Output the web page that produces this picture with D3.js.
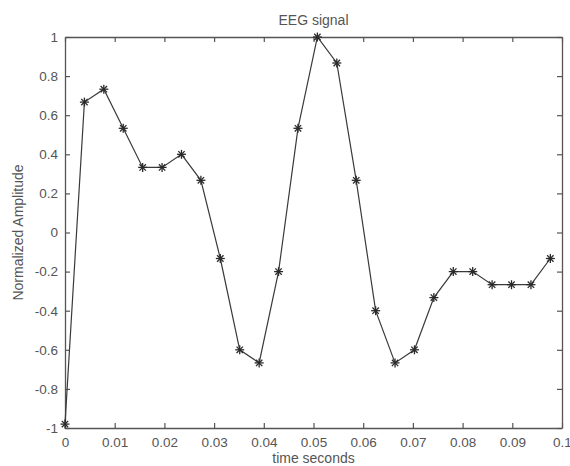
<!DOCTYPE html>
<html>
<head>
<meta charset="utf-8">
<script src="https://cdn.jsdelivr.net/npm/d3@7/dist/d3.min.js"></script>
<style>
  html, body { margin: 0; padding: 0; background: #fff; }
  svg { display: block; }
  text { font-family: "Liberation Sans", Arial, sans-serif; fill: #555; }
</style>
</head>
<body>
<script>
// Sample times (s) at 256 Hz and normalized EEG amplitudes
const sampleTimes = d3.range(26).map(i => i / 256);
const amplitudes = [
  -0.98, 0.667, 0.733, 0.533, 0.333, 0.333, 0.4, 0.267, -0.133, -0.6,
  -0.667, -0.2, 0.533, 1.0, 0.867, 0.267, -0.4, -0.667, -0.6, -0.333,
  -0.2, -0.2, -0.267, -0.267, -0.267, -0.133
];
const xTicks = [0, 0.01, 0.02, 0.03, 0.04, 0.05, 0.06, 0.07, 0.08, 0.09, 0.1];
const yTicks = [-1, -0.8, -0.6, -0.4, -0.2, 0, 0.2, 0.4, 0.6, 0.8, 1];
const titleText = "EEG signal";
const xLabelText = "time seconds";
const yLabelText = "Normalized Amplitude";

const W = 570, H = 466;
const m = { left: 65, right: 8, top: 37, bottom: 38 };
const fontSize = "14px";
const tickFontSize = "13.5px";

const svg = d3.select("body").append("svg").attr("width", W).attr("height", H);

const x = d3.scaleLinear().domain([0, 0.1]).range([m.left, W - m.right]);
const y = d3.scaleLinear().domain([-1, 1]).range([H - m.bottom, m.top]);

const fmt = d => (d === 0 ? "0" : String(+d.toFixed(2)));
const axisColor = "#555";
const tickLen = 5;

// Bottom axis with labels, inward ticks
const gx = svg.append("g").attr("transform", `translate(0,${y(-1)})`)
  .call(d3.axisBottom(x).tickValues(xTicks).tickSizeInner(-tickLen).tickSizeOuter(0).tickPadding(9).tickFormat(fmt));
// Left axis with labels, inward ticks
const gy = svg.append("g").attr("transform", `translate(${x(0)},0)`)
  .call(d3.axisLeft(y).tickValues(yTicks).tickSizeInner(-tickLen).tickSizeOuter(0).tickPadding(7).tickFormat(fmt));
// Top and right axes: ticks only
const gt = svg.append("g").attr("transform", `translate(0,${y(1)})`)
  .call(d3.axisTop(x).tickValues(xTicks).tickSizeInner(-tickLen).tickSizeOuter(0).tickFormat(""));
const gr = svg.append("g").attr("transform", `translate(${x(0.1)},0)`)
  .call(d3.axisRight(y).tickValues(yTicks).tickSizeInner(-tickLen).tickSizeOuter(0).tickFormat(""));

[gx, gy, gt, gr].forEach(g => {
  g.select(".domain").attr("stroke", axisColor).attr("stroke-width", 1.3);
  g.selectAll(".tick line").attr("stroke", axisColor).attr("stroke-width", 1.2);
  g.selectAll(".tick text").attr("fill", "#555").style("font-size", tickFontSize)
    .style("font-family", '"Liberation Sans", Arial, sans-serif');
});

// Signal trace
svg.append("path")
  .datum(sampleTimes.map((t, i) => [t, amplitudes[i]]))
  .attr("fill", "none")
  .attr("stroke", "#3a3a3a")
  .attr("stroke-width", 1.2)
  .attr("d", d3.line().x(d => x(d[0])).y(d => y(d[1])));

// Asterisk markers
const star = svg.append("g").selectAll("g")
  .data(sampleTimes.map((t, i) => [t, amplitudes[i]]))
  .join("g")
  .attr("transform", d => `translate(${x(d[0])},${y(d[1])})`);
const r = 4.5, rd = 3.2;
const starSegs = [[-r, 0, r, 0], [0, -r, 0, r], [-rd, -rd, rd, rd], [-rd, rd, rd, -rd]];
starSegs.forEach(s => {
  star.append("line")
    .attr("x1", s[0]).attr("y1", s[1]).attr("x2", s[2]).attr("y2", s[3])
    .attr("stroke", "#2a2a2a").attr("stroke-width", 1.3);
});

// Title and axis labels
svg.append("text").attr("x", (x(0) + x(0.1)) / 2).attr("y", 25)
  .attr("text-anchor", "middle").style("font-size", fontSize).text(titleText);
svg.append("text").attr("x", (x(0) + x(0.1)) / 2).attr("y", 463)
  .attr("text-anchor", "middle").style("font-size", fontSize).text(xLabelText);
svg.append("text")
  .attr("transform", `translate(23,${(y(-1) + y(1)) / 2}) rotate(-90)`)
  .attr("text-anchor", "middle").style("font-size", fontSize).text(yLabelText);
</script>
</body>
</html>
